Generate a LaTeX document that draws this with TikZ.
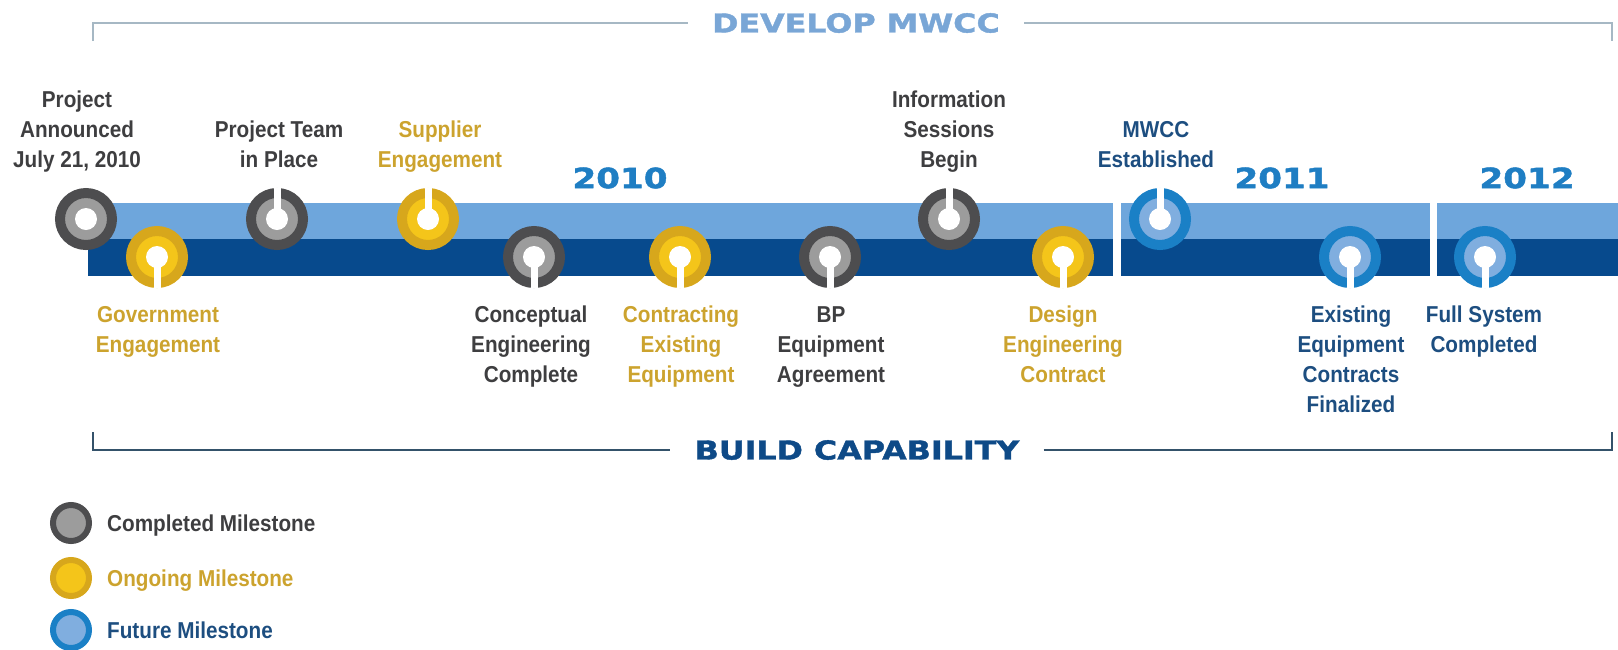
\documentclass[tikz,border=0pt]{standalone}
\usepackage{fontspec}
\setmainfont{Liberation Sans}
\newfontfamily\labfont[FakeStretch=0.9]{Liberation Sans}
\newfontfamily\headfont[FakeStretch=1.22,FakeBold=1.6]{DejaVu Sans}
\usetikzlibrary{positioning}

\definecolor{barlight}{HTML}{6EA6DC}
\definecolor{bardark}{HTML}{074A8D}
\definecolor{doneout}{HTML}{4D4D4F}
\definecolor{donein}{HTML}{9C9C9C}
\definecolor{goldout}{HTML}{D7A71C}
\definecolor{goldin}{HTML}{F4C51A}
\definecolor{futout}{HTML}{1A80C6}
\definecolor{futin}{HTML}{80AEDF}
\definecolor{donetext}{HTML}{3E3E40}
\definecolor{goldtext}{HTML}{CCA32E}
\definecolor{futtext}{HTML}{1D4E80}
\definecolor{yeartext}{HTML}{1F7EC3}
\definecolor{devtext}{HTML}{79A6D6}
\definecolor{buildtext}{HTML}{0E4A87}
\definecolor{devline}{HTML}{A6B8C4}
\definecolor{buildline}{HTML}{34526A}

\begin{document}
\begin{tikzpicture}
[x=1pt,y=-1pt,%
  ms/.style={circle,inner sep=0pt,minimum size=52pt,line width=10pt},%
  done/.style={ms,draw=doneout,fill=donein},%
  ongoing/.style={ms,draw=goldout,fill=goldin},%
  future/.style={ms,draw=futout,fill=futin},%
  key/.style={circle,inner sep=0pt,minimum size=36pt,line width=6pt},%
  slot/.style={white,line width=7pt},%
  lab/.style={font=\labfont\bfseries\fontsize{23}{30}\selectfont,align=center,inner sep=0pt,text depth=6pt},%
  uplab/.style={lab,anchor=south},%
  lowlab/.style={lab,anchor=north},%
  year/.style={font=\headfont\bfseries\fontsize{28}{30}\selectfont,text=yeartext},%
  phase/.style={font=\headfont\bfseries\fontsize{26}{30}\selectfont,inner xsep=24pt}]
\useasboundingbox (0,0) rectangle (1618,649);

% bars
\fill[barlight] (88,203) rectangle (1113,239);
\fill[bardark] (88,239) rectangle (1113,276);
\fill[barlight] (1121,203) rectangle (1430,239);
\fill[bardark] (1121,239) rectangle (1430,276);
\fill[barlight] (1437,203) rectangle (1618,239);
\fill[bardark] (1437,239) rectangle (1618,276);

\node[year] (y10) at (620,178) {2010};
\node[year] (y11) at (1282,178) {2011};
\node[year] (y12) at (1527,178) {2012};

% milestones
\node[done] (m1) at (86,219) {};
\node[ongoing] (m2) at (157,257) {};
\node[done] (m3) at (277,219) {};
\node[ongoing] (m4) at (428,219) {};
\node[done] (m5) at (534,257) {};
\node[ongoing] (m6) at (680,257) {};
\node[done] (m7) at (830,257) {};
\node[done] (m8) at (949,219) {};
\node[ongoing] (m9) at (1063,257) {};
\node[future] (m10) at (1160,219) {};
\node[future] (m11) at (1350,257) {};
\node[future] (m12) at (1485,257) {};

\foreach \i in {1,...,12}
  \fill[white] (m\i) circle (11pt);
\foreach \m in {m3,m4,m8,m10}
  \draw[slot] (\m.center) -- (\m.north);
\foreach \m in {m2,m5,m6,m7,m9,m11,m12}
  \draw[slot] (\m.center) -- (\m.south);

\node[uplab,text=donetext] (t1) at (77,174) {Project\\Announced\\July 21, 2010};
\node[lowlab,text=goldtext] (t2) at (158,306) {Government\\Engagement};
\node[uplab,text=donetext] (t3) at (279,174) {Project Team\\in Place};
\node[uplab,text=goldtext] (t4) at (440,174) {Supplier\\Engagement};
\node[lowlab,text=donetext] (t5) at (531,306) {Conceptual\\Engineering\\Complete};
\node[lowlab,text=goldtext] (t6) at (681,306) {Contracting\\Existing\\Equipment};
\node[lowlab,text=donetext] (t7) at (831,306) {BP\\Equipment\\Agreement};
\node[uplab,text=donetext] (t8) at (949,174) {Information\\Sessions\\Begin};
\node[lowlab,text=goldtext] (t9) at (1063,306) {Design\\Engineering\\Contract};
\node[uplab,text=futtext] (t10) at (1156,174) {MWCC\\Established};
\node[lowlab,text=futtext] (t11) at (1351,306) {Existing\\Equipment\\Contracts\\Finalized};
\node[lowlab,text=futtext] (t12) at (1484,306) {Full System\\Completed};

% phases
\node[phase,text=devtext] (dev) at (856,23) {DEVELOP MWCC};
\coordinate (devL) at (93,41);
\coordinate (devR) at (1612,41);
\draw[devline,line width=2.5pt] (devL) |- (dev.west);
\draw[devline,line width=2.5pt] (dev.east) -| (devR);

\node[phase,text=buildtext] (build) at (857,450) {BUILD CAPABILITY};
\coordinate (buildL) at (93,432);
\coordinate (buildR) at (1612,432);
\draw[buildline,line width=2.5pt] (buildL) |- (build.west);
\draw[buildline,line width=2.5pt] (build.east) -| (buildR);

% legend
\node[key,draw=doneout,fill=donein] (k1) at (71,523) {};
\node[lab,anchor=base west,text=donetext] (k1t) at (107,531) {Completed Milestone};
\node[key,draw=goldout,fill=goldin] (k2) at (71,578) {};
\node[lab,anchor=base west,text=goldtext] (k2t) at (107,586) {Ongoing Milestone};
\node[key,draw=futout,fill=futin] (k3) at (71,630) {};
\node[lab,anchor=base west,text=futtext] (k3t) at (107,638) {Future Milestone};
\end{tikzpicture}
\end{document}
